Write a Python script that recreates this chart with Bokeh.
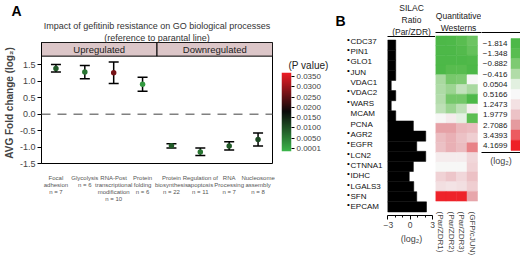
import numpy as np
from bokeh.plotting import figure
from bokeh.models import (Range1d, FactorRange, FixedTicker, Whisker, TeeHead, Span, Title,
                          LinearColorMapper, ColumnDataSource, LinearAxis, PrintfTickFormatter)
from bokeh.layouts import row
from bokeh.embed import file_html
from bokeh.resources import INLINE
from bokeh.core.properties import value

FONT = "Liberation Sans"

# ---------------- data: panel A ----------------
categories = ["Focal adhesion", "Glycolysis", "RNA-Post transcriptional modification", "Protein folding",
              "Protein biosynthesis", "Regulation of apoptosis", "RNA Processing", "Nucleosome assembly"]
category_labels = ["Focal\nadhesion\nn = 7", "Glycolysis\nn = 6",
                   "RNA-Post\ntranscriptional\nmodification\nn = 10", "Protein\nfolding\nn = 6",
                   "Protein\nbiosynthesis\nn = 22", "Regulation of\napoptosis\nn = 11",
                   "RNA\nProcessing\nn = 7", "Nucleosome\nassembly\nn = 8"]
category_groups = ["Upregulated"] * 4 + ["Downregulated"] * 4
fold_mean = [1.39, 1.28, 1.26, 0.91, -0.96, -1.15, -0.97, -0.77]
fold_low = [1.28, 1.08, 0.93, 0.70, -1.03, -1.26, -1.09, -0.97]
fold_high = [1.51, 1.48, 1.59, 1.12, -0.90, -1.03, -0.84, -0.57]
p_values = [0.009, 0.006, 0.027, 0.002, 0.009, 0.006, 0.009, 0.011]
p_ticks = [0.0001, 0.0050, 0.0100, 0.0150, 0.0200, 0.0250, 0.0300, 0.0350]
fold_ticks = [-1.5, -1.0, -0.5, 0.0, 0.5, 1.0, 1.5]

# ---------------- data: panel B ----------------
genes = ["CDC37", "PIN1", "GLO1", "JUN", "VDAC1", "VDAC2", "WARS", "MCAM", "PCNA",
         "AGR2", "EGFR", "LCN2", "CTNNA1", "IDHC", "LGALS3", "SFN", "EPCAM"]
gene_marked = [True, True, True, True, False, True, True, False, False,
               True, True, True, True, True, True, True, True]
silac_ratio = [-1.9, -1.9, -1.9, -1.9, -2.5, -1.9, -2.5, -1.9, 0.45,
               2.1, 0.9, 2.1, 0.45, -0.1, 0.5, 0.9, 2.2]
silac_ticks = [-3, 0, 3]
silac_minor_ticks = [-2, -1, 1, 2]
western_columns = ["(Par/ZDR1)", "(Par/ZDR2)", "(Par/ZDR3)", "(GFP/cJUN)"]
western_par_zdr1 = [-1.8, -1.8, -1.8, -1.8, -0.5, -0.45, -0.4, -0.3, 0.5,
                    2.6, 2.1, 2.0, 0.9, 0.5, 1.6, 1.3, 4.1]
western_par_zdr2 = [-1.75, -1.8, -1.8, -1.4, -0.95, -0.6, -1.0, -0.6, 0.9,
                    2.6, 2.3, 2.3, 0.9, 0.5, 1.9, 1.2, 4.1]
western_par_zdr3 = [-1.35, -1.6, -1.8, -1.4, -0.9, -0.25, -1.0, -0.3, 0.1,
                    2.2, 2.0, 2.1, 0.9, 0.5, 1.5, 1.3, 4.1]
western_gfp_cjun = [-1.1, -1.2, -1.7, -1.8, 0.5, -0.5, -1.8, 0.8, -1.3,
                    2.1, 1.7, 3.0, 1.5, 1.6, 2.0, 1.7, 2.5]
legend_values = [-1.814, -1.348, -0.882, -0.416, 0.0504, 0.5166, 1.2473, 1.9779, 2.7086, 3.4393, 4.1699]
legend_labels = ["\u22121.814", "\u22121.348", "\u22120.882", "\u22120.416", "0.0504", "0.5166",
                 "1.2473", "1.9779", "2.7086", "3.4393", "4.1699"]

# ---------------- colour scales (style) ----------------
heat_stop_colors = ["#4db848", "#5abd50", "#7fcb73", "#b2dcaa", "#e3f0e1", "#f8f8f8",
                    "#f3e1e3", "#ecc3c7", "#e59ba0", "#ec5b60", "#ee1f26"]
p_stop_values = [-0.0014, 0.0180, 0.0369]
p_stop_colors = ["#3cb64b", "#0a0a0a", "#ee1c25"]


def ramp(stop_vals, stop_cols, lo, hi, n=256):
    rgb = np.array([[int(c[i:i + 2], 16) for i in (1, 3, 5)] for c in stop_cols], float)
    vals = np.linspace(lo, hi, n)
    ch = [np.interp(vals, stop_vals, rgb[:, k]) for k in range(3)]
    return ["#%02x%02x%02x" % (int(round(ch[0][i])), int(round(ch[1][i])), int(round(ch[2][i])))
            for i in range(n)]


heat_map = LinearColorMapper(palette=ramp(legend_values, heat_stop_colors, legend_values[0], legend_values[-1]),
                             low=legend_values[0], high=legend_values[-1])
p_map = LinearColorMapper(palette=ramp(p_stop_values, p_stop_colors, p_stop_values[0], p_stop_values[-1]),
                          low=p_stop_values[0], high=p_stop_values[-1])


def add_title(p, text, size="9px", style="normal", align="center", offset=0, standoff=0, color="#222222"):
    p.add_layout(Title(text=text, text_font=FONT, text_font_size=size, text_font_style=style,
                       align=align, offset=offset, standoff=standoff, text_color=color), "above")


def no_align(p):
    try:
        p.frame_align = False
    except Exception:
        pass


H = 258

# ================= Panel A =================
xpos = list(range(1, len(categories) + 1))
srcA = ColumnDataSource(dict(x=xpos, mean=fold_mean, low=fold_low, high=fold_high, p=p_values))
Y_TOP = 2.18
STRIP_BOTTOM = 1.765
pA = figure(width=275, height=H, x_range=Range1d(0.5, len(categories) + 0.5), y_range=Range1d(-1.5, Y_TOP),
            min_border_left=33, min_border_right=3, min_border_top=38, min_border_bottom=95,
            toolbar_location=None, output_backend="svg")
no_align(pA)
pA.grid.visible = False
pA.outline_line_color = "black"
pA.outline_line_width = 1

grp_names, grp_left, grp_right, grp_mid = [], [], [], []
for g in dict.fromkeys(category_groups):
    idx = [xpos[i] for i, gg in enumerate(category_groups) if gg == g]
    grp_names.append(g)
    grp_left.append(min(idx) - 0.5)
    grp_right.append(max(idx) + 0.5)
    grp_mid.append((min(idx) + max(idx)) / 2)
pA.quad(left=grp_left, right=grp_right, bottom=STRIP_BOTTOM, top=Y_TOP,
        fill_color="#dcc6c8", line_color="black", line_width=1)
pA.text(x=grp_mid, y=(STRIP_BOTTOM + Y_TOP) / 2, text=grp_names, text_font=value(FONT),
        text_font_size="9.5px", text_align="center", text_baseline="middle", text_color="#222222")

pA.add_layout(Span(location=0, dimension="width", line_color="#808080", line_dash="9 7", line_width=1.5))
pA.add_layout(Whisker(source=srcA, base="x", lower="low", upper="high", line_color="black", line_width=1.5,
                      upper_head=TeeHead(size=10, line_color="black", line_width=1.5),
                      lower_head=TeeHead(size=10, line_color="black", line_width=1.5)))
pA.scatter("x", "mean", source=srcA, size=5.5, line_color=None,
           fill_color={"field": "p", "transform": p_map})

ya = pA.yaxis[0]
ya.ticker = FixedTicker(ticks=fold_ticks)
ya.formatter = PrintfTickFormatter(format="%.1f")
ya.axis_label = "AVG Fold change (log\u2082)"
ya.axis_label_text_font = FONT
ya.axis_label_text_font_size = "10px"
ya.axis_label_text_font_style = "bold"
ya.axis_label_standoff = 2
ya.major_label_text_font = FONT
ya.major_label_text_font_size = "9px"
ya.major_label_standoff = 2
ya.major_tick_out = 4
ya.major_tick_in = 0
ya.minor_tick_line_color = None

xa = pA.xaxis[0]
xa.ticker = FixedTicker(ticks=xpos)
xa.major_label_overrides = {x: l for x, l in zip(xpos, category_labels)}
xa.major_label_text_font = FONT
xa.major_label_text_font_size = "6px"
xa.major_label_text_color = "#555555"
xa.major_label_standoff = 5
xa.axis_line_color = None
xa.major_tick_line_color = None
xa.minor_tick_line_color = None

add_title(pA, "(reference to parantal line)", size="9px", offset=-13, color="#333333")
add_title(pA, "Impact of gefitinib resistance on GO biological processes", size="9px", color="#333333")
add_title(pA, "A", size="14px", style="bold", align="left", offset=-30, color="black")

# ---- P-value colour bar (own small figure) ----
pP = figure(width=55, height=H, x_range=Range1d(0, 1), y_range=Range1d(p_stop_values[0], p_stop_values[-1]),
            min_border_left=6, min_border_right=39, min_border_top=72, min_border_bottom=107,
            x_axis_location=None, y_axis_location="right", toolbar_location=None, output_backend="svg")
no_align(pP)
pP.grid.visible = False
pP.outline_line_color = None
grad = np.linspace(p_stop_values[0], p_stop_values[-1], 300).reshape(300, 1)
pP.image(image=[grad], x=0, y=p_stop_values[0], dw=1, dh=p_stop_values[-1] - p_stop_values[0],
         color_mapper=p_map)
pa = pP.yaxis[0]
pa.ticker = FixedTicker(ticks=p_ticks)
pa.formatter = PrintfTickFormatter(format="%.4f")
pa.axis_line_color = None
pa.major_tick_out = 3
pa.major_tick_in = 0
pa.minor_tick_line_color = None
pa.major_label_standoff = 2
pa.major_label_text_font = FONT
pa.major_label_text_font_size = "8px"
add_title(pP, "(P value)", size="10px", align="left", offset=7, standoff=4)

# ================= Panel B =================
yr = FactorRange(factors=genes[::-1], range_padding=0.0412)
B_TOP, B_BOTTOM = 32, 43

pL = figure(width=53, height=H, x_range=Range1d(0, 53), y_range=yr,
            min_border_left=0, min_border_right=0, min_border_top=B_TOP, min_border_bottom=B_BOTTOM,
            x_axis_location=None, y_axis_location=None, toolbar_location=None, output_backend="svg")
no_align(pL)
pL.grid.visible = False
pL.outline_line_color = None
pL.text(x=20, y=genes, text=genes, text_font=value(FONT), text_font_size="8px",
        text_align="left", text_baseline="middle", text_color="#111111")
marked = [g for g, m in zip(genes, gene_marked) if m]
pL.text(x=16.5, y=marked, text=["\u2022"] * len(marked), text_font=value(FONT), text_font_size="8px",
        text_align="left", text_baseline="middle", y_offset=-2, text_color="black")
add_title(pL, "B", size="14px", style="bold", align="left", offset=5, standoff=8, color="black")


def top_line(p):
    ax = LinearAxis(ticker=FixedTicker(ticks=[]), major_tick_out=0, major_tick_in=0,
                    minor_tick_out=0, minor_tick_in=0, major_label_standoff=0,
                    axis_line_color="black", axis_line_width=1)
    p.add_layout(ax, "above")


# SILAC bars
S_LO, S_HI = silac_ticks[0], silac_ticks[-1]
pS = figure(width=52, height=H, x_range=Range1d(S_LO, S_HI + 0.4), y_range=yr,
            min_border_left=4, min_border_right=0, min_border_top=B_TOP, min_border_bottom=B_BOTTOM,
            y_axis_location=None, toolbar_location=None, output_backend="svg")
no_align(pS)
pS.grid.visible = False
pS.outline_line_color = None
pS.hbar(y=genes, left=S_LO, right=silac_ratio, height=1.0, fill_color="black", line_color="black",
        line_width=0.5)
sx = pS.xaxis[0]
sx.bounds = (S_LO, S_HI)
sx.ticker = FixedTicker(ticks=silac_ticks, minor_ticks=silac_minor_ticks)
sx.major_label_overrides = {-3: "\u22123"}
sx.major_tick_out = 4
sx.major_tick_in = 0
sx.minor_tick_out = 2
sx.minor_tick_in = 0
sx.major_label_standoff = 2
sx.major_label_text_font = FONT
sx.major_label_text_font_size = "8.5px"
sx.axis_label = "(log\u2082)"
sx.axis_label_text_font = FONT
sx.axis_label_text_font_size = "9px"
sx.axis_label_text_font_style = "normal"
sx.axis_label_standoff = 3
top_line(pS)
add_title(pS, "(Par/ZDR)", size="8.5px", offset=-2)
add_title(pS, "Ratio", size="8.5px", offset=-2)
add_title(pS, "SILAC", size="8.5px", offset=-2)

# Quantitative westerns heatmap
col_idx = list(range(len(western_columns)))
hx, hy, hv = [], [], []
for j, colvals in zip(col_idx, [western_par_zdr1, western_par_zdr2, western_par_zdr3, western_gfp_cjun]):
    for g, v in zip(genes, colvals):
        hx.append(j)
        hy.append(g)
        hv.append(v)
srcH = ColumnDataSource(dict(x=hx, y=hy, v=hv))
pH = figure(width=46, height=H, x_range=Range1d(-0.5, len(western_columns) - 0.5 + 0.38), y_range=yr,
            min_border_left=0, min_border_right=0, min_border_top=B_TOP, min_border_bottom=B_BOTTOM,
            y_axis_location=None, toolbar_location=None, output_backend="svg")
no_align(pH)
pH.grid.visible = False
pH.outline_line_color = None
pH.rect("x", "y", width=1, height=1, source=srcH,
        fill_color={"field": "v", "transform": heat_map},
        line_color={"field": "v", "transform": heat_map}, line_width=0.5)
hxa = pH.xaxis[0]
hxa.ticker = FixedTicker(ticks=col_idx)
hxa.major_label_overrides = {j: c for j, c in zip(col_idx, western_columns)}
hxa.major_label_orientation = "vertical"
hxa.major_label_text_font = FONT
hxa.major_label_text_font_size = "8px"
hxa.major_label_standoff = 1
hxa.axis_line_color = None
hxa.major_tick_line_color = None
hxa.minor_tick_line_color = None
top_line(pH)
add_title(pH, "Westerns", size="8.5px", offset=-2)
add_title(pH, "Quantitative", size="8.5px", offset=-2)

# discrete legend
idx = list(range(len(legend_values)))
srcG = ColumnDataSource(dict(i=idx, v=legend_values, t=legend_labels))
pG = figure(width=39, height=H, x_range=Range1d(0, 39), y_range=Range1d(len(legend_values) - 0.3, -1.09),
            min_border_left=0, min_border_right=0, min_border_top=B_TOP, min_border_bottom=106,
            y_axis_location=None, toolbar_location=None, output_backend="svg")
no_align(pG)
pG.grid.visible = False
pG.outline_line_color = None
pG.rect(x=34, y="i", width=9, height=1, source=srcG,
        fill_color={"field": "v", "transform": heat_map},
        line_color={"field": "v", "transform": heat_map}, line_width=0.5)
pG.text(x=26, y="i", text="t", source=srcG, text_font=value(FONT), text_font_size="8px",
        text_align="right", text_baseline="middle", text_color="#222222")
gx = pG.xaxis[0]
gx.ticker = FixedTicker(ticks=[])
gx.major_tick_out = 0
gx.major_tick_in = 0
gx.minor_tick_out = 0
gx.axis_label = "(log\u2082)"
gx.axis_label_text_font = FONT
gx.axis_label_text_font_size = "9px"
gx.axis_label_text_font_style = "normal"
gx.axis_label_standoff = 3
top_line(pG)

layout = row(pA, pP, pL, pS, pH, pG, spacing=0)
open("out.html", "w").write(file_html(layout, INLINE))
